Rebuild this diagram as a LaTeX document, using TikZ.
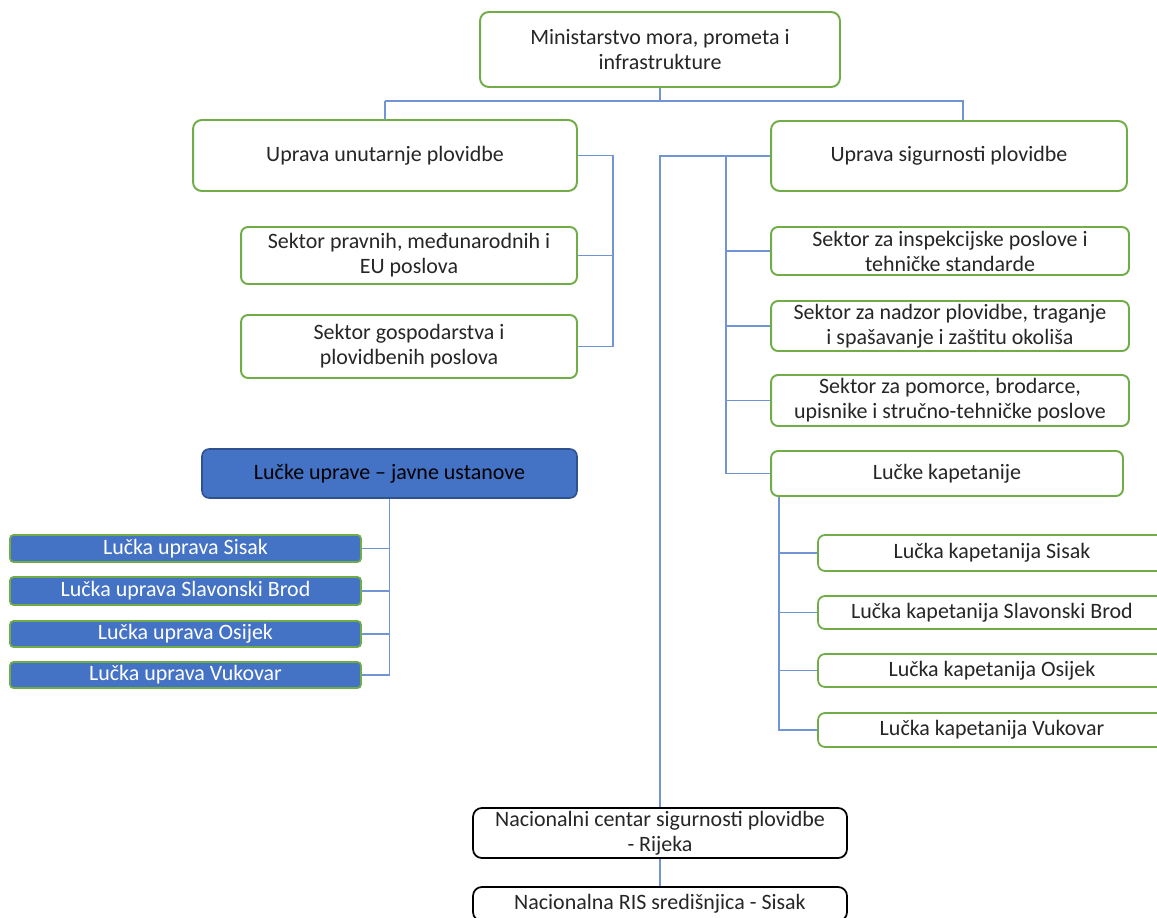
\documentclass[tikz,border=0pt]{standalone}
\usepackage{fontspec}
\setmainfont{Carlito}
\usetikzlibrary{positioning}
\definecolor{okvir}{RGB}{112,173,71}
\definecolor{plava}{RGB}{68,114,196}
\definecolor{tamnoplava}{RGB}{47,82,143}
\definecolor{veza}{RGB}{112,148,212}

\begin{document}
\begin{tikzpicture}[x=0.02cm,y=-0.02cm]
\fontsize{12.5}{14.2}\selectfont
\tikzstyle{box} = [draw=okvir, line width=1.1pt, rounded corners=5pt, fill=white, text=black!85, align=center, inner sep=0pt]
\tikzstyle{blue} = [draw=tamnoplava, line width=0.9pt, rounded corners=4pt, fill=plava, text=black, inner sep=0pt]
\tikzstyle{lu} = [draw=okvir, line width=1pt, rounded corners=2pt, fill=plava, text=white, minimum width=7.02cm, inner sep=0pt]
\tikzstyle{lk} = [draw=okvir, line width=1pt, rounded corners=4pt, fill=white, text=black!85, minimum width=6.96cm, inner sep=0pt]
\tikzstyle{nc} = [draw=black, line width=1pt, rounded corners=5pt, fill=white, text=black!85, align=center, minimum width=7.48cm, minimum height=1cm, inner sep=0pt]
\tikzstyle{link} = [draw=veza, line width=0.7pt]
\useasboundingbox (0,0) rectangle (1157,917);
\clip (0,0) rectangle (1157,917);
\fill[white] (0,0) rectangle (1157,917);

\coordinate (busL) at (613,0);
\coordinate (busR) at (726,0);
\coordinate (busK) at (779,0);
\coordinate (top) at (660,101);
\coordinate (dropR) at (963,101);

\draw
(660,49.5) node [box,minimum width=7.2cm,minimum height=1.5cm] (min) {Ministarstvo mora, prometa i\\ infrastrukture}
(385,155.5) node [box,minimum width=7.68cm,minimum height=1.42cm] (uun) {Uprava unutarnje plovidbe}
(949,156) node [box,minimum width=7.12cm,minimum height=1.4cm] (usp) {Uprava sigurnosti plovidbe}
(409,255.5) node [box,rounded corners=4pt,minimum width=6.72cm,minimum height=1.14cm] (spr) {Sektor pravnih, me\dj unarodnih i\\ EU poslova}
(409,346.5) node [box,rounded corners=4pt,minimum width=6.72cm,minimum height=1.26cm] (sgo) {Sektor gospodarstva i\\ plovidbenih poslova}
(950,251) node [box,rounded corners=4pt,minimum width=7.16cm,minimum height=0.96cm] (sin) {Sektor za inspekcijske poslove i\\ tehni\v{c}ke standarde}
(950,326) node [box,rounded corners=4pt,minimum width=7.16cm,minimum height=1cm] (snd) {Sektor za nadzor plovidbe, traganje\\ i spa\v{s}avanje i za\v{s}titu okoli\v{s}a}
(950,400.5) node [box,rounded corners=4pt,minimum width=7.16cm,minimum height=1.02cm] (spo) {Sektor za pomorce, brodarce,\\ upisnike i stru\v{c}no-tehni\v{c}ke poslove}
(947,473.5) node [box,rounded corners=4pt,minimum width=7.04cm,minimum height=0.9cm] (lkap) {Lu\v{c}ke kapetanije}
(389.5,473.5) node [blue,minimum width=7.5cm,minimum height=0.98cm] (luj) {Lu\v{c}ke uprave -- javne ustanove}
(185.5,548.5) node [lu,minimum height=0.54cm] (lus) {Lu\v{c}ka uprava Sisak}
(185.5,591) node [lu,minimum height=0.56cm] (lusb) {Lu\v{c}ka uprava Slavonski Brod}
(185.5,634) node [lu,minimum height=0.52cm] (luo) {Lu\v{c}ka uprava Osijek}
(185.5,675) node [lu,minimum height=0.52cm] (luv) {Lu\v{c}ka uprava Vukovar}
(992,553) node [lk,minimum height=0.72cm] (lks) {Lu\v{c}ka kapetanija Sisak}
(992,612.5) node [lk,minimum height=0.66cm] (lksb) {Lu\v{c}ka kapetanija Slavonski Brod}
(992,670.5) node [lk,minimum height=0.66cm] (lko) {Lu\v{c}ka kapetanija Osijek}
(992,730) node [lk,minimum height=0.68cm] (lkv) {Lu\v{c}ka kapetanija Vukovar}
(660,833) node [nc] (nc) {Nacionalni centar sigurnosti plovidbe\\ - Rijeka}
(660,904) node [nc,minimum height=0.68cm] (ris) {Nacionalna RIS sredi\v{s}njica - Sisak};

\begin{scope}[on background layer/.try]
\path[link] (min.south) -- (top) (top -| uun.north) -- (dropR) -- (usp.north -| dropR) (top -| uun.north) -- (uun.north)
(uun.east) -| (busL |- sgo.east) -- (sgo.east) (spr.east) -- (spr.east -| busL)
(usp.west) -| (nc.north) (nc.south) -- (ris.north)
(busR |- usp.west) |- (lkap.west) (sin.west) -- (sin.west -| busR) (snd.west) -- (snd.west -| busR) (spo.west) -- (spo.west -| busR)
(busK |- lkap.south) |- (lkv.west) (lks.west) -- (lks.west -| busK) (lksb.west) -- (lksb.west -| busK) (lko.west) -- (lko.west -| busK)
(luj.south) |- (luv.east) (lus.east) -- (lus.east -| luj.south) (lusb.east) -- (lusb.east -| luj.south) (luo.east) -- (luo.east -| luj.south);
\end{scope}
\end{tikzpicture}
\end{document}
